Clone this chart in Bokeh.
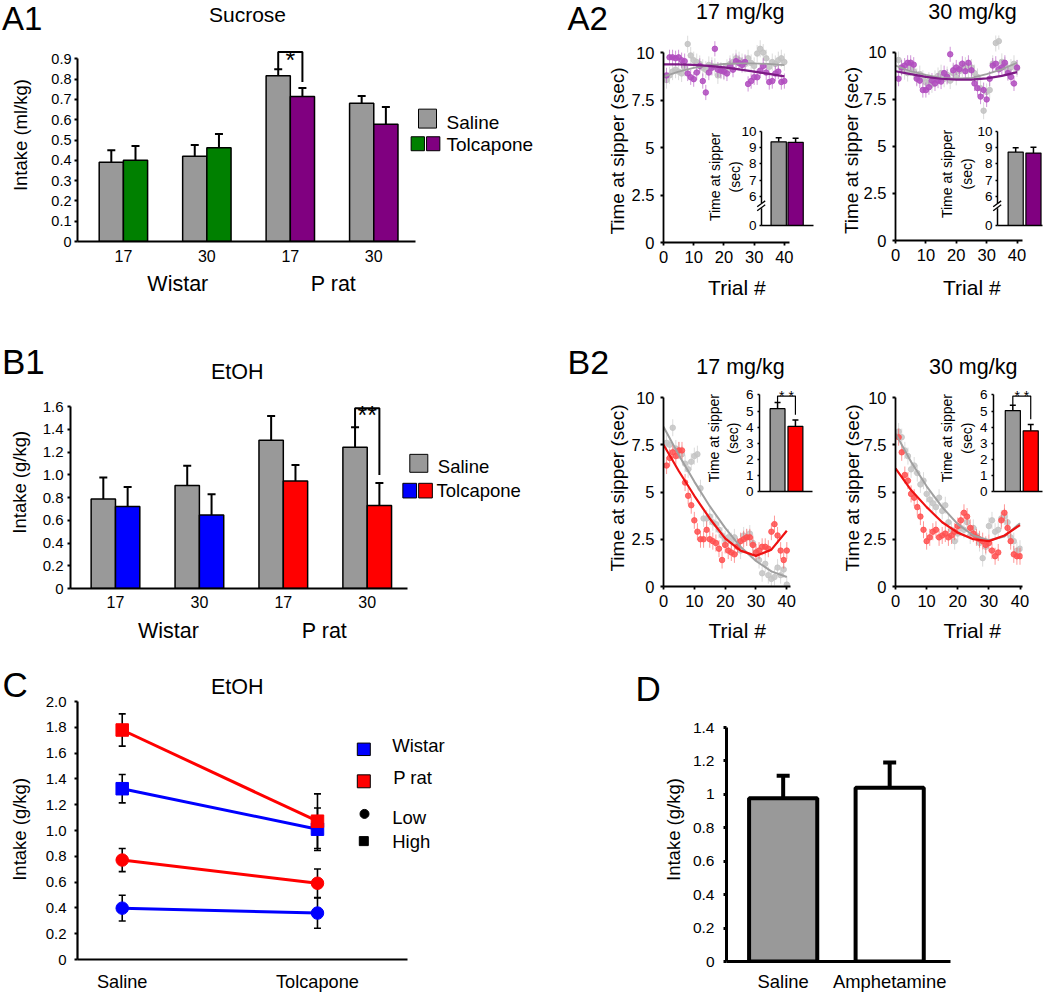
import math
from bokeh.plotting import figure
from bokeh.models import Range1d, FixedTicker, Whisker, TeeHead, GridBox, ColumnDataSource, Label
from bokeh.embed import file_html
from bokeh.resources import INLINE
from bokeh.core.properties import value

FONT = "Liberation Sans"
# common borders for every figure (the grid aligns borders, so keep them identical)
BL, BR, BT, BB = 55, 8, 20, 34
PAGE_W, PAGE_H = 1050, 998

# ---------------- data ----------------
GROUP_X = [1, 2, 3, 4]
DOSE_LABELS = ["17", "30", "17", "30"]

A1_SALINE = [0.39, 0.42, 0.817, 0.681]
A1_SALINE_ERR = [0.06, 0.055, 0.031, 0.036]
A1_TOLCAPONE = [0.40, 0.462, 0.714, 0.577]
A1_TOLCAPONE_ERR = [0.07, 0.068, 0.042, 0.086]
A1_YTICKS = [0, 0.1, 0.2, 0.3, 0.4, 0.5, 0.6, 0.7, 0.8, 0.9]
A1_YLABELS = ["0", "0.1", "0.2", "0.3", "0.4", "0.5", "0.6", "0.7", "0.8", "0.9"]

B1_SALINE = [0.788, 0.905, 1.303, 1.242]
B1_SALINE_ERR = [0.189, 0.174, 0.213, 0.175]
B1_TOLCAPONE = [0.721, 0.646, 0.945, 0.730]
B1_TOLCAPONE_ERR = [0.172, 0.183, 0.140, 0.198]
B1_YTICKS = [0, 0.2, 0.4, 0.6, 0.8, 1.0, 1.2, 1.4, 1.6]
B1_YLABELS = ["0", "0.2", "0.4", "0.6", "0.8", "1.0", "1.2", "1.4", "1.6"]

TRIALS = list(range(1, 41))
CURVE_T = [0, 5, 10, 15, 20, 25, 30, 35, 40]
TRIAL_TICKS = [0, 10, 20, 30, 40]
TRIAL_LABELS = ["0", "10", "20", "30", "40"]
TIME_TICKS = [0, 2.5, 5, 7.5, 10]
TIME_LABELS = ["0", "2.5", "5", "7.5", "10"]

A2_17_SAL = [8.55, 8.8, 9.0, 9.1, 9.0, 8.9, 9.2, 10.45, 9.85, 9.6, 9.5, 9.4, 9.2, 9.1, 9.35, 9.3, 9.25, 8.8, 9.05, 9.0,
             9.2, 9.4, 9.5, 9.7, 9.6, 9.5, 9.4, 9.7, 9.45, 9.3, 9.95, 10.2, 10.0, 9.7, 9.25, 9.5, 9.4, 9.6, 9.7, 9.5]
A2_17_TOL = [8.8, 9.75, 9.75, 9.7, 9.75, 9.6, 9.55, 8.9, 8.7, 8.6, 8.95, 9.3, 8.5, 7.9, 8.95, 9.2, 10.2, 9.1, 9.05, 9.0,
             8.9, 9.3, 9.1, 9.55, 9.45, 9.35, 9.5, 8.35, 8.5, 8.7, 8.7, 9.05, 9.3, 8.95, 8.45, 8.5, 8.9, 9.0, 8.45, 8.5]
A2_30_SAL = [9.6, 9.1, 9.0, 8.9, 9.2, 9.0, 8.7, 8.85, 8.6, 8.4, 8.5, 8.3, 8.6, 8.75, 8.9, 8.6, 8.8, 8.5, 8.9, 8.7,
             9.0, 9.15, 9.3, 9.1, 9.2, 8.9, 8.7, 8.1, 6.9, 7.9, 8.0, 9.4, 10.5, 10.6, 9.5, 9.3, 9.0, 9.2, 9.4, 9.15]
A2_30_TOL = [8.6, 9.2, 9.3, 9.45, 9.45, 9.35, 8.6, 8.5, 8.0, 8.0, 8.15, 8.5, 8.35, 8.5, 8.45, 8.9, 8.7, 9.9, 9.05, 9.2,
             9.1, 9.4, 9.0, 9.45, 9.05, 8.35, 8.1, 7.65, 8.0, 7.5, 8.6, 9.3, 9.4, 9.1, 9.2, 9.45, 8.9, 8.7, 8.35, 9.2]
A2_SAL_ERR = 0.45
A2_TOL_ERR = 0.40
A2_17_SAL_FIT = [8.73, 9.0, 9.2, 9.32, 9.4, 9.43, 9.43, 9.4, 9.34]
A2_17_TOL_FIT = [9.38, 9.38, 9.35, 9.3, 9.22, 9.12, 9.0, 8.88, 8.75]
A2_30_SAL_FIT = [9.3, 9.0, 8.8, 8.65, 8.6, 8.65, 8.85, 9.1, 9.45]
A2_30_TOL_FIT = [9.0, 8.85, 8.7, 8.6, 8.55, 8.55, 8.62, 8.75, 8.95]

INSET_X = [1, 2]
A2_INSET_TICKS = [0, 6, 7, 8, 9, 10]
A2_INSET_LABELS = ["0", "6", "7", "8", "9", "10"]
A2_17_INSET = [9.36, 9.33]
A2_17_INSET_ERR = [0.26, 0.25]
A2_30_INSET = [8.73, 8.67]
A2_30_INSET_ERR = [0.27, 0.36]

B2_17_SAL = [7.6, 7.5, 8.4, 7.3, 7.2, 7.0, 6.5, 6.2, 6.6, 6.9, 7.0, 5.2, 3.6, 3.6, 3.7, 3.4, 3.3, 3.0, 2.7, 2.5,
             2.6, 2.4, 2.6, 2.2, 1.9, 2.7, 2.6, 2.8, 2.3, 1.8, 1.4, 0.7, 1.2, 0.6, 0.4, 0.5, 1.0, 0.6, 0.9, 0.1]
B2_17_TOL = [6.4, 6.8, 7.1, 6.9, 7.2, 7.2, 5.5, 4.8, 4.3, 3.5, 2.9, 2.5, 2.5, 3.0, 2.5, 2.4, 2.3, 2.0, 1.4, 2.2,
             1.9, 1.8, 1.7, 2.1, 2.4, 2.5, 2.6, 2.6, 2.2, 1.8, 1.9, 2.1, 2.1, 2.0, 2.9, 3.3, 2.7, 1.9, 1.4, 1.9]
B2_30_SAL = [8.2, 7.9, 7.2, 6.9, 6.2, 6.4, 6.0, 5.4, 5.6, 4.9, 4.6, 4.4, 4.2, 4.7, 4.0, 4.3, 3.4, 3.0, 2.4, 2.8,
             3.1, 3.0, 3.4, 2.7, 3.1, 2.7, 2.3, 1.5, 2.1, 3.2, 3.5, 2.9, 3.0, 3.6, 3.7, 3.4, 2.6, 2.4, 1.9, 2.0]
B2_30_TOL = [7.9, 7.1, 5.9, 5.6, 4.9, 4.7, 4.2, 3.7, 3.0, 2.4, 2.6, 2.9, 3.0, 2.6, 2.7, 2.8, 2.6, 2.7, 2.9, 3.2,
             3.5, 3.9, 3.7, 3.1, 2.8, 2.6, 2.5, 2.4, 2.2, 2.3, 1.9, 1.6, 1.8, 3.5, 3.9, 3.1, 2.4, 1.7, 1.6, 1.6]
B2_ERR = 0.45
B2_17_SAL_FIT = [8.45, 6.95, 5.55, 4.25, 3.1, 2.1, 1.35, 0.8, 0.5]
B2_17_TOL_FIT = [7.5, 6.1, 4.8, 3.6, 2.55, 1.9, 1.62, 1.95, 2.95]
B2_30_SAL_FIT = [8.1, 6.6, 5.3, 4.2, 3.3, 2.7, 2.45, 2.65, 3.35]
B2_30_TOL_FIT = [6.25, 5.1, 4.2, 3.4, 2.85, 2.5, 2.4, 2.7, 3.25]

B2_INSET_TICKS = [0, 1, 2, 3, 4, 5, 6]
B2_INSET_LABELS = ["0", "1", "2", "3", "4", "5", "6"]
B2_17_INSET = [5.15, 4.05]
B2_17_INSET_ERR = [0.38, 0.40]
B2_30_INSET = [5.03, 3.77]
B2_30_INSET_ERR = [0.33, 0.40]

C_X = [1, 2]
C_LABELS = ["Saline", "Tolcapone"]
C_WISTAR_HIGH = [1.324, 1.01]
C_WISTAR_HIGH_ERR = [0.11, 0.165]
C_PRAT_HIGH = [1.779, 1.072]
C_PRAT_HIGH_ERR = [0.125, 0.212]
C_PRAT_LOW = [0.771, 0.591]
C_PRAT_LOW_ERR = [0.09, 0.11]
C_WISTAR_LOW = [0.398, 0.36]
C_WISTAR_LOW_ERR = [0.10, 0.118]
C_YTICKS = [0, 0.2, 0.4, 0.6, 0.8, 1.0, 1.2, 1.4, 1.6, 1.8, 2.0]
C_YLABELS = ["0", "0.2", "0.4", "0.6", "0.8", "1.0", "1.2", "1.4", "1.6", "1.8", "2.0"]

D_X = [1, 2]
D_LABELS = ["Saline", "Amphetamine"]
D_VALUES = [0.977, 1.04]
D_ERR = [0.135, 0.151]
D_YTICKS = [0, 0.2, 0.4, 0.6, 0.8, 1.0, 1.2, 1.4]
D_YLABELS = ["0", "0.2", "0.4", "0.6", "0.8", "1", "1.2", "1.4"]

GRAY = "#999999"
GREEN = "#008000"
PURPLE = "#800080"
BLUE = "#0000ff"
RED = "#ff0000"
A1_TOL_COLORS = [GREEN, GREEN, PURPLE, PURPLE]
B1_TOL_COLORS = [BLUE, BLUE, RED, RED]

figs = []


def make_fig(fl, ft, fw, fh, xr, yr):
    w = int(round(BL + fw + BR))
    h = int(round(BT + fh + BB))
    p = figure(width=w, height=h, x_range=Range1d(*xr), y_range=Range1d(*yr),
               output_backend="svg", toolbar_location=None,
               min_border_left=BL, min_border_right=BR, min_border_top=BT, min_border_bottom=BB)
    p.title_location = None
    p.margin = (int(round(ft - BT)), 0, 0, int(round(fl - BL)))
    p.background_fill_color = None
    p.border_fill_color = None
    p.outline_line_color = None
    p.xgrid.visible = False
    p.ygrid.visible = False
    figs.append(p)
    return p


def style_axis(ax, ticks, labels, size, standoff, tick_out=3, lw=2.0, bounds=None):
    ax.ticker = FixedTicker(ticks=list(ticks))
    ax.major_label_overrides = {t: l for t, l in zip(ticks, labels)}
    ax.major_label_text_font = FONT
    ax.major_label_text_font_size = f"{size}px"
    ax.major_label_text_color = "black"
    ax.major_label_standoff = standoff
    ax.major_tick_out = tick_out
    ax.major_tick_in = 0
    ax.minor_tick_line_color = None
    ax.axis_line_width = lw
    ax.axis_line_color = "black"
    ax.major_tick_line_width = lw
    ax.major_tick_line_color = "black" if tick_out else None
    if bounds is not None:
        ax.bounds = bounds


def bars_with_err(p, xs, vals, errs, colors, width, lw, cap, err_lw, bottom=0):
    src = ColumnDataSource(dict(x=list(xs), top=list(vals),
                                hi=[v + e for v, e in zip(vals, errs)], color=list(colors)))
    p.vbar(x="x", top="top", bottom=bottom, width=width, fill_color="color",
           line_color="black", line_width=lw, source=src)
    p.add_layout(Whisker(source=src, base="x", lower="top", upper="hi", dimension="height",
                         line_width=err_lw, line_color="black",
                         upper_head=TeeHead(size=cap, line_width=err_lw, line_color="black"),
                         lower_head=None))


def trial_scatter(p, vals, err, color, alpha=0.85, size=5.5):
    p.segment(x0=TRIALS, y0=[v - err for v in vals], x1=TRIALS, y1=[v + err for v in vals],
              line_color=color, line_alpha=alpha * 0.7, line_width=1)
    p.scatter(x=TRIALS, y=vals, size=size, marker="circle", fill_color=color, line_color=color,
              fill_alpha=alpha, line_alpha=alpha)


# ---------------- A1 ----------------
BW = 0.29
a1 = make_fig(77, 38, 338, 204, (0.45, 4.5), (0, 1.0))
style_axis(a1.yaxis[0], A1_YTICKS, A1_YLABELS, 14.5, 3, bounds=(0, 0.9))
style_axis(a1.xaxis[0], GROUP_X, DOSE_LABELS, 16, 8, tick_out=0)
sal_x = [g - BW / 2 for g in GROUP_X]
tol_x = [g + BW / 2 for g in GROUP_X]
bars_with_err(a1, sal_x, A1_SALINE, A1_SALINE_ERR, [GRAY] * 4, BW, 1.5, 8, 2)
bars_with_err(a1, tol_x, A1_TOLCAPONE, A1_TOLCAPONE_ERR, A1_TOL_COLORS, BW, 1.5, 8, 2)
i = 2
y0 = A1_SALINE[i] + A1_SALINE_ERR[i]
y1 = A1_TOLCAPONE[i] + A1_TOLCAPONE_ERR[i] + 0.03
yt = y0 + 0.085
a1.line(x=[sal_x[i], sal_x[i], tol_x[i], tol_x[i]], y=[y0, yt, yt, y1], line_color="black", line_width=2)
a1.text(x=[GROUP_X[i]], y=[yt - 0.038], text=["*"], text_font=value(FONT), text_font_size="25px",
        text_align="center", text_baseline="alphabetic")

# ---------------- B1 ----------------
b1 = make_fig(70, 388.8, 337.3, 200.5, (0.464, 4.48), (0, 1.75))
style_axis(b1.yaxis[0], B1_YTICKS, B1_YLABELS, 15, 4, bounds=(0, 1.6))
style_axis(b1.xaxis[0], GROUP_X, DOSE_LABELS, 16, 7, tick_out=0)
bars_with_err(b1, sal_x, B1_SALINE, B1_SALINE_ERR, [GRAY] * 4, BW, 1.5, 8, 2)
bars_with_err(b1, tol_x, B1_TOLCAPONE, B1_TOLCAPONE_ERR, B1_TOL_COLORS, BW, 1.5, 8, 2)
i = 3
y0 = B1_SALINE[i] + B1_SALINE_ERR[i]
y1 = B1_TOLCAPONE[i] + B1_TOLCAPONE_ERR[i] + 0.07
yt = y0 + 0.168
b1.line(x=[sal_x[i], sal_x[i], tol_x[i], tol_x[i]], y=[y0, yt, yt, y1], line_color="black", line_width=2)
b1.text(x=[GROUP_X[i]], y=[yt - 0.057], text=["**"], text_font=value(FONT), text_font_size="25px",
        text_align="center", text_baseline="alphabetic")


# ---------------- A2 / B2 main panels ----------------
def trial_panel(fl, ft, fw, fh, xr, yr, bounds=None):
    p = make_fig(fl, ft, fw, fh, xr, yr)
    style_axis(p.yaxis[0], TIME_TICKS, TIME_LABELS, 16.5, 6, lw=1.8, bounds=bounds)
    style_axis(p.xaxis[0], TRIAL_TICKS, TRIAL_LABELS, 16.5, 5, lw=1.8)
    return p


a217 = trial_panel(662.5, 35.4, 126.4, 207.6, (0, 41.7), (0, 10.9), bounds=(0, 10))
trial_scatter(a217, A2_17_SAL, A2_SAL_ERR, "#c2c2c2")
trial_scatter(a217, A2_17_TOL, A2_TOL_ERR, "#b04cbe")
a217.line(x=CURVE_T, y=A2_17_SAL_FIT, line_color="#a0a0a0", line_width=1.8)
a217.line(x=CURVE_T, y=A2_17_TOL_FIT, line_color="#7d1a85", line_width=2.2)

a230 = trial_panel(895, 34.7, 126.7, 206.3, (0, 41.8), (0, 10.9), bounds=(0, 10))
trial_scatter(a230, A2_30_SAL, A2_SAL_ERR, "#c2c2c2")
trial_scatter(a230, A2_30_TOL, A2_TOL_ERR, "#b04cbe")
a230.line(x=CURVE_T, y=A2_30_SAL_FIT, line_color="#a0a0a0", line_width=1.8)
a230.line(x=CURVE_T, y=A2_30_TOL_FIT, line_color="#7d1a85", line_width=2.2)

b217 = trial_panel(663.3, 396.7, 126.9, 190, (0, 41.2), (0, 10))
trial_scatter(b217, B2_17_SAL, B2_ERR, "#c4c4c4")
trial_scatter(b217, B2_17_TOL, B2_ERR, "#ff5050")
b217.line(x=CURVE_T, y=B2_17_SAL_FIT, line_color="#a0a0a0", line_width=2)
b217.line(x=CURVE_T, y=B2_17_TOL_FIT, line_color="#ee1111", line_width=2.2)

b230 = trial_panel(895.5, 397.3, 126.9, 190, (0, 40.8), (0, 10))
trial_scatter(b230, B2_30_SAL, B2_ERR, "#c4c4c4")
trial_scatter(b230, B2_30_TOL, B2_ERR, "#ff5050")
b230.line(x=CURVE_T, y=B2_30_SAL_FIT, line_color="#a0a0a0", line_width=2)
b230.line(x=CURVE_T, y=B2_30_TOL_FIT, line_color="#ee1111", line_width=2.2)

# ---------------- insets ----------------
BREAK_BASE = 4.2


def inset_xrange(fl, fr, c1, unit):
    return (1 - (c1 - fl) / unit, 1 + (fr - c1) / unit)


def a2_inset(fl, fr, c1, unit, vals, errs):
    xr = inset_xrange(fl, fr, c1, unit)
    p = make_fig(fl, 130.9, fr - fl, 95.1, xr, (BREAK_BASE, 10))
    pos = [BREAK_BASE if t == 0 else t for t in A2_INSET_TICKS]
    style_axis(p.yaxis[0], pos, A2_INSET_LABELS, 13.5, 3, tick_out=2, lw=1.5)
    style_axis(p.xaxis[0], [], [], 13.5, 0, tick_out=0, lw=1.5)
    bars_with_err(p, INSET_X, vals, errs, [GRAY, PURPLE], 15.2 / unit, 1.2, 6, 1.5, bottom=BREAK_BASE)
    return p


a2_inset(760.7, 812.4, 777.8, 16.8, A2_17_INSET, A2_17_INSET_ERR)
a2_inset(996.7, 1042, 1015, 17.9, A2_30_INSET, A2_30_INSET_ERR)


def b2_inset(fl, fr, fb, c1, unit, vals, errs):
    xr = inset_xrange(fl, fr, c1, unit)
    fh = 6.9 * 16.3
    p = make_fig(fl, fb - fh, fr - fl, fh, xr, (0, 6.9))
    style_axis(p.yaxis[0], B2_INSET_TICKS, B2_INSET_LABELS, 13.5, 4, tick_out=2, lw=1.5, bounds=(0, 6))
    style_axis(p.xaxis[0], [], [], 13.5, 0, tick_out=0, lw=1.5)
    bars_with_err(p, INSET_X, vals, errs, [GRAY, RED], 15.0 / unit, 1.2, 6, 1.5)
    ya = vals[0] + errs[0]
    yt = 5.93
    yb = vals[1] + errs[1] + 0.32
    p.line(x=[INSET_X[0], INSET_X[0], INSET_X[1], INSET_X[1]], y=[ya, yt, yt, yb], line_color="black", line_width=1.2)
    p.text(x=[(INSET_X[0] + INSET_X[1]) / 2], y=[yt], text=["* *"], text_font=value(FONT),
           text_font_size="14px", text_align="center", text_baseline="alphabetic")
    return p


b2_inset(759.3, 812.7, 492, 777.5, 18.0, B2_17_INSET, B2_17_INSET_ERR)
b2_inset(993.3, 1042, 492.5, 1012.5, 17.8, B2_30_INSET, B2_30_INSET_ERR)

# ---------------- C ----------------
c = make_fig(77.3, 700.6, 330, 259.4, (0.771, 2.461), (0, 2.0))
style_axis(c.yaxis[0], C_YTICKS, C_YLABELS, 15, 8, lw=2.2)
style_axis(c.xaxis[0], C_X, C_LABELS, 18.2, 12, tick_out=0, lw=2.2)
for vals, errs, col, mk in [(C_WISTAR_LOW, C_WISTAR_LOW_ERR, BLUE, "circle"),
                            (C_PRAT_LOW, C_PRAT_LOW_ERR, RED, "circle"),
                            (C_WISTAR_HIGH, C_WISTAR_HIGH_ERR, BLUE, "square"),
                            (C_PRAT_HIGH, C_PRAT_HIGH_ERR, RED, "square")]:
    src = ColumnDataSource(dict(x=C_X, y=vals, lo=[v - e for v, e in zip(vals, errs)],
                                hi=[v + e for v, e in zip(vals, errs)]))
    c.line(x="x", y="y", source=src, line_color=col, line_width=3)
    c.add_layout(Whisker(source=src, base="x", lower="lo", upper="hi", dimension="height",
                         line_width=1.6, line_color="black",
                         upper_head=TeeHead(size=7, line_width=1.6, line_color="black"),
                         lower_head=TeeHead(size=7, line_width=1.6, line_color="black")))
    c.scatter(x="x", y="y", source=src, marker=mk, size=12.5, fill_color=col, line_color=col)

# ---------------- D ----------------
d = make_fig(726, 727.3, 224, 235, (0.468, 2.571), (0, 1.4))
style_axis(d.yaxis[0], D_YTICKS, D_YLABELS, 15.5, 9, tick_out=3, lw=3)
style_axis(d.xaxis[0], D_X, D_LABELS, 18.4, 9, tick_out=0, lw=3)
bars_with_err(d, D_X, D_VALUES, D_ERR, [GRAY, "#ffffff"], 0.64, 4, 13, 4)

# ---------------- overlays (texts, legends) in page-pixel coordinates ----------------
SPLIT = 560
OV_FH = PAGE_H - BT - BB


def make_overlay(x0, x1):
    fw = x1 - x0
    o = figure(width=BL + fw + BR, height=PAGE_H,
               x_range=Range1d(x0, x1), y_range=Range1d(OV_FH, 0),
               x_axis_type=None, y_axis_type=None, output_backend="svg", toolbar_location=None,
               min_border_left=BL, min_border_right=BR, min_border_top=BT, min_border_bottom=BB)
    o.title_location = None
    o.margin = (-BT, 0, 0, x0 - BL)
    o.outline_line_color = None
    o.background_fill_color = None
    o.border_fill_color = None
    return o


ov_left = make_overlay(0, SPLIT)
ov_right = make_overlay(SPLIT, PAGE_W - BR)


def pick(x):
    return ov_left if x < SPLIT else ov_right


VERT = math.pi / 2


def txt(x, y, s, size, align="center", angle=0.0):
    pick(x).add_layout(Label(x=x, y=y, text=s, text_font=FONT, text_font_size=f"{size}px",
                             text_align=align, text_baseline="middle", angle=angle, text_color="black"))


def box(x, y, w, h, color, outline="black"):
    pick(x).rect(x=[x], y=[y], width=[w], height=[h], fill_color=color, line_color=outline, line_width=1)


# panel letters
txt(1.5, 18.5, "A1", 33, "left")
txt(567, 18.5, "A2", 33, "left")
txt(1.5, 362, "B1", 35, "left")
txt(567, 362.5, "B2", 34, "left")
txt(2, 686.5, "C", 35, "left")
txt(635, 690, "D", 35, "left")

# titles
txt(247, 14, "Sucrose", 21)
txt(739.7, 12, "17 mg/kg", 21.5)
txt(972, 12, "30 mg/kg", 21.5)
txt(236.7, 373, "EtOH", 21.5)
txt(740, 367.7, "17 mg/kg", 21.5)
txt(972.7, 367.7, "30 mg/kg", 21.5)
txt(236.7, 688.3, "EtOH", 21.5)

# axis titles
txt(19.5, 135, "Intake (ml/kg)", 18.5, angle=VERT)
txt(19, 483.3, "Intake (g/kg)", 18.5, angle=VERT)
txt(19, 831.5, "Intake (g/kg)", 18.5, angle=VERT)
txt(673.3, 831.7, "Intake (g/kg)", 18.5, angle=VERT)
txt(617, 151, "Time at sipper (sec)", 19, angle=VERT)
txt(851.3, 150.5, "Time at sipper (sec)", 19, angle=VERT)
txt(616.7, 489, "Time at sipper (sec)", 19, angle=VERT)
txt(852, 489, "Time at sipper (sec)", 19, angle=VERT)
txt(736.4, 288, "Trial #", 21)
txt(971.3, 288, "Trial #", 21)
txt(736.7, 632.5, "Trial #", 21)
txt(971.7, 632.5, "Trial #", 21)

# inset axis titles
for x1, x2, yc in [(714.4, 734.7, 177), (946, 966, 174), (713.3, 732.7, 439), (946.7, 966, 439)]:
    txt(x1, yc, "Time at sipper", 14, angle=VERT)
    txt(x2, yc, "(sec)", 14, angle=VERT)

# group labels
txt(177.3, 284, "Wistar", 21.5)
txt(333, 284, "P rat", 21.5)
txt(168, 632.5, "Wistar", 21.5)
txt(324, 632.5, "P rat", 21.5)

# A1 legend
box(427, 118.5, 18, 19, GRAY)
txt(446, 122.5, "Saline", 19, "left")
box(417.3, 143.7, 13.3, 14, GREEN)
box(432.7, 143.7, 13.3, 14, PURPLE)
txt(446, 144, "Tolcapone", 19, "left")

# B1 legend
box(418.3, 464.3, 18, 18, GRAY)
txt(437.3, 467.5, "Saline", 18.5, "left")
box(409.2, 491.7, 13.7, 14.7, BLUE)
box(425, 491.7, 13.7, 14.7, RED)
txt(436, 491.7, "Tolcapone", 18.5, "left")

# C legend
box(363.3, 751.2, 13, 12.5, BLUE)
txt(391.7, 747.7, "Wistar", 18.5, "left")
box(363.3, 783.3, 13, 13, RED)
txt(392.7, 779.3, "P rat", 18.5, "left")
ov_left.scatter(x=[364], y=[816], marker="circle", size=9, color="black")
txt(391.7, 819.3, "Low", 18.5, "left")
ov_left.scatter(x=[363.3], y=[843.3], marker="square", size=9, color="black")
txt(391.7, 844, "High", 18.5, "left")

# axis break marks on the A2 insets
for ax in [760.7, 996.7]:
    ov_right.rect(x=[ax], y=[206], width=[5], height=[5], fill_color="white", line_color=None)
    ov_right.segment(x0=[ax - 4, ax - 4], y0=[207, 211], x1=[ax + 4, ax + 4], y1=[201, 205],
                     line_color="black", line_width=1.3)

allf = figs + [ov_left, ov_right]
grid = GridBox(children=[(f, 0, 0) for f in allf])

open("out.html", "w").write(file_html(grid, INLINE, "Figure"))
